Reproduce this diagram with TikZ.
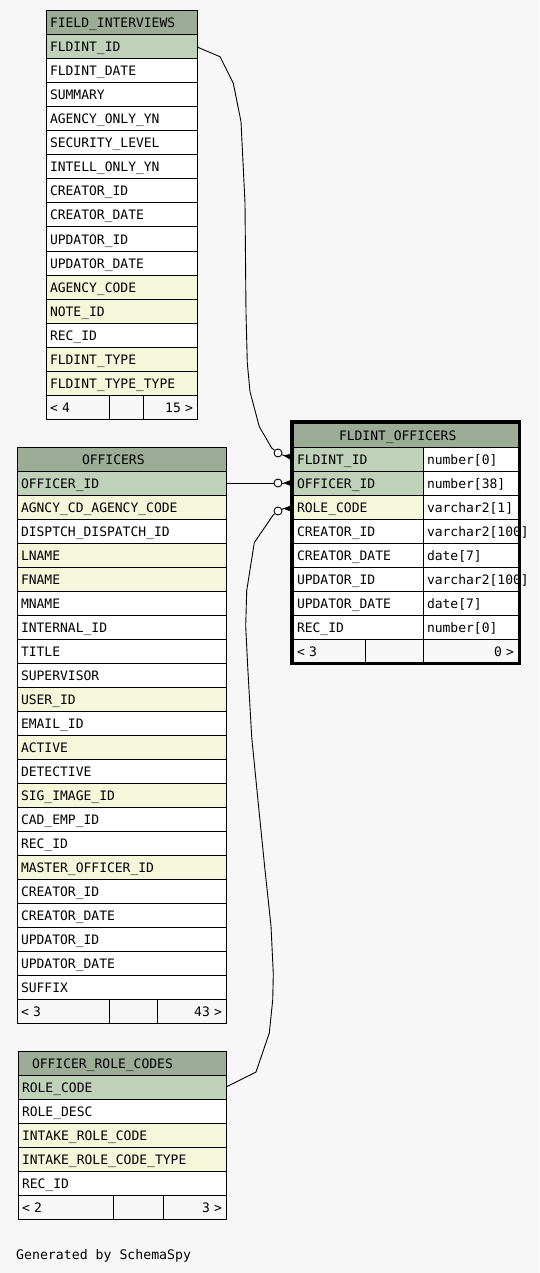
\documentclass[tikz,border=0pt]{standalone}
\usepackage{fontspec}
\newfontfamily\dbfont{DejaVu Sans Mono}
\usetikzlibrary{calc}
\definecolor{bgc}{HTML}{F7F7F7}
\definecolor{hdr}{HTML}{9CAC97}
\definecolor{pk}{HTML}{BFD1B9}
\definecolor{fk}{HTML}{F4F7DA}
\definecolor{ftc}{HTML}{F7F7F7}
\tikzset{
  cell/.style={draw=black, line width=1pt, anchor=north west, inner xsep=4pt,
    inner ysep=0pt, outer sep=0pt, minimum height=24pt, text height=10pt,
    text depth=0pt, align=left, font=\dbfont\fontsize{13}{13}\selectfont},
  rcell/.style={cell, align=right},
  conn/.style={draw=black, line width=0.9pt},
  crowo/.style={circle, draw=black, fill=white, line width=0.9pt,
    minimum size=8pt, inner sep=0pt},
  crowfoot/.style={fill=black, draw=black, line width=0.6pt},
  gentext/.style={anchor=base west, inner sep=0pt,
    font=\dbfont\fontsize{13.2}{13.2}\selectfont}
}
\begin{document}
\catcode`\_=12
\begin{tikzpicture}[x=1pt,y=-1pt]
\useasboundingbox (0,0) rectangle (539,1273);
\fill[bgc] (0,0) rectangle (539,1273);

% FIELD_INTERVIEWS
\node[cell, fill=hdr, minimum width=151pt, text width=143pt] (fi) at (46,11) {FIELD_INTERVIEWS};
\foreach \t/\c [count=\i] in {FLDINT_ID/pk, FLDINT_DATE/white, SUMMARY/white,
  AGENCY_ONLY_YN/white, SECURITY_LEVEL/white, INTELL_ONLY_YN/white,
  CREATOR_ID/white, CREATOR_DATE/white, UPDATOR_ID/white, UPDATOR_DATE/white,
  AGENCY_CODE/fk, NOTE_ID/fk, REC_ID/white, FLDINT_TYPE/fk, FLDINT_TYPE_TYPE/fk}
  \node[cell, fill=\c, minimum width=151pt, text width=143pt] (fi-\i) at (46,{11+24*\i}) {\t};
\node[cell, fill=ftc, minimum width=63pt, text width=55pt] (fi-f1) at (46,395) {< 4};
\node[cell, fill=ftc, minimum width=34pt, text width=26pt] (fi-f2) at (109,395) {};
\node[rcell, fill=ftc, minimum width=54pt, text width=46pt] (fi-f3) at (143,395) {15 >};

% OFFICERS
\node[cell, fill=hdr, minimum width=209pt, text width=201pt] (of) at (17,447) {\hspace*{61pt}OFFICERS};
\foreach \t/\c [count=\i] in {OFFICER_ID/pk, AGNCY_CD_AGENCY_CODE/fk,
  DISPTCH_DISPATCH_ID/white, LNAME/fk, FNAME/fk, MNAME/white, INTERNAL_ID/white,
  TITLE/white, SUPERVISOR/white, USER_ID/fk, EMAIL_ID/white, ACTIVE/fk,
  DETECTIVE/white, SIG_IMAGE_ID/fk, CAD_EMP_ID/white, REC_ID/white,
  MASTER_OFFICER_ID/fk, CREATOR_ID/white, CREATOR_DATE/white, UPDATOR_ID/white,
  UPDATOR_DATE/white, SUFFIX/white}
  \node[cell, fill=\c, minimum width=209pt, text width=201pt] (of-\i) at (17,{447+24*\i}) {\t};
\node[cell, fill=ftc, minimum width=92pt, text width=84pt] (of-f1) at (17,999) {< 3};
\node[cell, fill=ftc, minimum width=48pt, text width=40pt] (of-f2) at (109,999) {};
\node[rcell, fill=ftc, minimum width=69pt, text width=61pt] (of-f3) at (157,999) {43 >};

% OFFICER_ROLE_CODES
\node[cell, fill=hdr, minimum width=208pt, text width=200pt] (orc) at (18,1051) {\hspace*{10pt}OFFICER_ROLE_CODES};
\foreach \t/\c [count=\i] in {ROLE_CODE/pk, ROLE_DESC/white, INTAKE_ROLE_CODE/fk,
  INTAKE_ROLE_CODE_TYPE/fk, REC_ID/white}
  \node[cell, fill=\c, minimum width=208pt, text width=200pt] (orc-\i) at (18,{1051+24*\i}) {\t};
\node[cell, fill=ftc, minimum width=95pt, text width=87pt] (orc-f1) at (18,1195) {< 2};
\node[cell, fill=ftc, minimum width=50pt, text width=42pt] (orc-f2) at (113,1195) {};
\node[rcell, fill=ftc, minimum width=63pt, text width=55pt] (orc-f3) at (163,1195) {3 >};

% FLDINT_OFFICERS
\node[cell, fill=hdr, minimum width=225pt, text width=217pt] (fo) at (293,423) {\hspace*{42pt}FLDINT_OFFICERS};
\foreach \t/\c/\u [count=\i] in {FLDINT_ID/pk/number[0], OFFICER_ID/pk/number[38],
  ROLE_CODE/fk/varchar2[1], CREATOR_ID/white/varchar2[100], CREATOR_DATE/white/date[7],
  UPDATOR_ID/white/varchar2[100], UPDATOR_DATE/white/date[7], REC_ID/white/number[0]}{
  \node[cell, fill=\c, minimum width=130pt, text width=122pt] (fo-\i) at (293,{423+24*\i}) {\t};
  \node[cell, fill=white, minimum width=95pt, text width=87pt] (fot-\i) at (423,{423+24*\i}) {\u};
}
\node[cell, fill=ftc, minimum width=72pt, text width=64pt] (fo-f1) at (293,639) {< 3};
\node[cell, fill=ftc, minimum width=58pt, text width=50pt] (fo-f2) at (365,639) {};
\node[rcell, fill=ftc, minimum width=95pt, text width=87pt] (fo-f3) at (423,639) {0 >};
\draw[line width=3pt] (291.5,421) rectangle (519.5,663.5);

% connectors
\node[crowo] (o1) at (278,453) {};
\node[crowo] (o2) at (278,483) {};
\node[crowo] (o3) at (278,511) {};
\coordinate (a1) at (284,455.5);
\coordinate (a2) at (284,483);
\coordinate (a3) at (284,508.5);

\draw[conn] (fi-1.east) -- (220,56.7) -- (233.3,83.3) -- (241,121.7) -- (245,203)
  -- (246,313) -- (247.3,363) -- (250,391.7) -- (259.3,426.7) -- (271.7,448) -- (o1);
\draw[conn] (o1) -- (a1);
\fill[crowfoot] (a1) -- ($(fo-1.west)+(0,-5)$) -- ($(fo-1.west)+(0,2)$) -- cycle;

\draw[conn] (of-1.east) -- (o2);
\draw[conn] (o2) -- (a2);
\fill[crowfoot] (a2) -- ($(fo-2.west)+(0,-3.5)$) -- ($(fo-2.west)+(0,3.5)$) -- cycle;

\draw[conn] (orc-1.east) -- (256,1072) -- (269.3,1033) -- (272.7,1000) -- (273.3,974)
  -- (271,926) -- (265,870) -- (258.3,803.7) -- (251.7,737) -- (247.7,666.7)
  -- (245.7,626) -- (246.7,590.7) -- (254.3,542.6) -- (273.3,514.8) -- (o3);
\draw[conn] (o3) -- (a3);
\fill[crowfoot] (a3) -- ($(fo-3.west)+(0,-2)$) -- ($(fo-3.west)+(0,5)$) -- cycle;

\node[gentext] (gen) at (16,1259) {Generated by SchemaSpy};
\end{tikzpicture}
\end{document}
